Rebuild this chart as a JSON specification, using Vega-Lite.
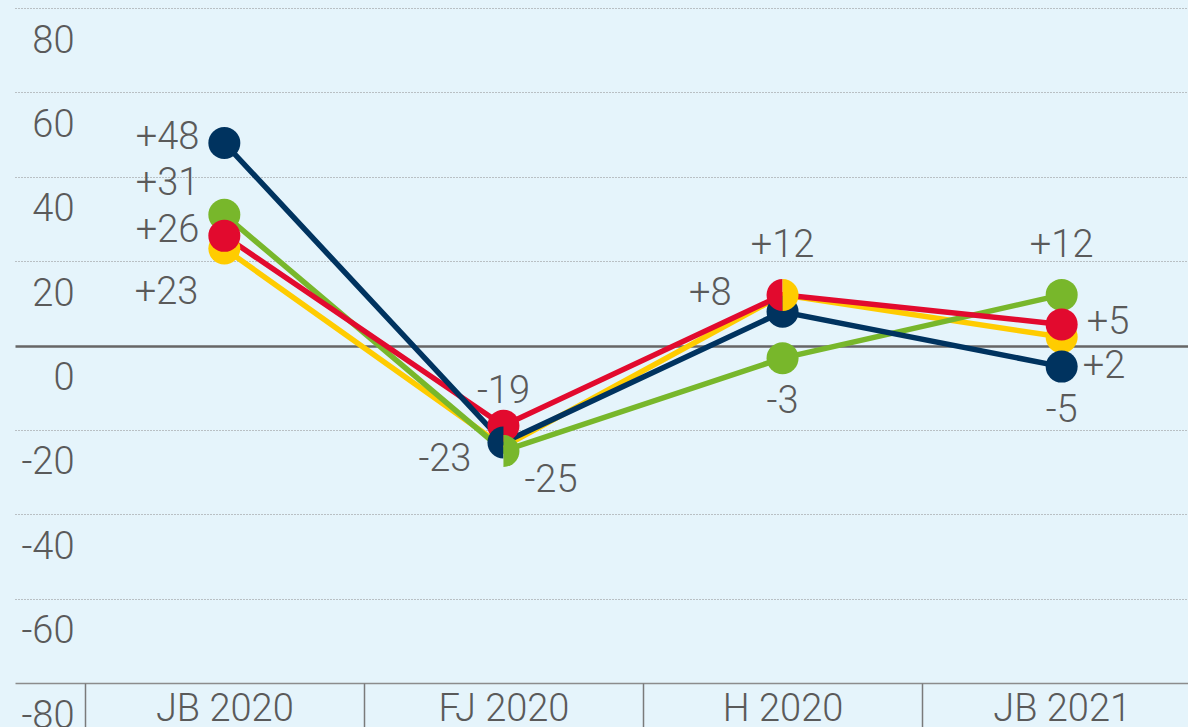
{
  "$schema": "https://vega.github.io/schema/vega-lite/v6.json",
  "width": 1173,
  "height": 675,
  "autosize": "none",
  "padding": {"left": 15, "top": 8, "right": 0, "bottom": 44},
  "background": "#e5f4fb",
  "config": {
    "view": {"stroke": null},
    "font": "Roboto"
  },
  "data": {
    "values": [
      {"period": "JB 2020", "series": "gelb", "value": 23},
      {"period": "FJ 2020", "series": "gelb", "value": -24},
      {"period": "H 2020", "series": "gelb", "value": 12},
      {"period": "JB 2021", "series": "gelb", "value": 2},
      {"period": "JB 2020", "series": "gruen", "value": 31},
      {"period": "FJ 2020", "series": "gruen", "value": -25},
      {"period": "H 2020", "series": "gruen", "value": -3},
      {"period": "JB 2021", "series": "gruen", "value": 12},
      {"period": "JB 2020", "series": "rot", "value": 26},
      {"period": "FJ 2020", "series": "rot", "value": -19},
      {"period": "H 2020", "series": "rot", "value": 12},
      {"period": "JB 2021", "series": "rot", "value": 5},
      {"period": "JB 2020", "series": "blau", "value": 48},
      {"period": "FJ 2020", "series": "blau", "value": -23},
      {"period": "H 2020", "series": "blau", "value": 8},
      {"period": "JB 2021", "series": "blau", "value": -5}
    ]
  },
  "transform": [
    {"calculate": "datum.period + '/' + datum.series", "as": "key"},
    {"calculate": "(datum.value > 0 ? '+' : '') + datum.value", "as": "label"}
  ],
  "encoding": {
    "x": {
      "field": "period",
      "type": "ordinal",
      "sort": ["JB 2020", "FJ 2020", "H 2020", "JB 2021"],
      "scale": {"type": "band", "range": [0, 1256], "paddingInner": 0, "paddingOuter": 0.25},
      "bandPosition": 0.5,
      "axis": {
        "title": null,
        "domain": false,
        "grid": false,
        "ticks": true,
        "tickBand": "extent",
        "tickSize": 44,
        "tickColor": "#7a7a7a",
        "tickWidth": 1.5,
        "labelFont": "Roboto",
        "labelFontWeight": 300,
        "labelFontSize": 38,
        "labelColor": "#5a5a5a",
        "labelPadding": -7,
        "labelBaseline": "alphabetic",
        "labelAngle": 0,
        "labelFlush": false,
        "labelOverlap": false
      }
    },
    "y": {
      "field": "value",
      "type": "quantitative",
      "scale": {"domain": [-80, 80], "nice": false, "zero": false},
      "axis": {
        "title": null,
        "domain": false,
        "ticks": false,
        "tickSize": 0,
        "values": [-80, -60, -40, -20, 0, 20, 40, 60, 80],
        "grid": true,
        "gridColor": {"condition": {"test": "datum.value === 0", "value": "#666666"}, "value": "#8c8c8c"},
        "gridDash": {"condition": {"test": "datum.value === 0 || datum.value === -80", "value": []}, "value": [1, 2]},
        "gridWidth": {"condition": [{"test": "datum.value === 0", "value": 2.5}, {"test": "datum.value === -80", "value": 1.5}], "value": 1},
        "labelExpr": "'' + datum.value",
        "labelAlign": "right",
        "labelBaseline": "alphabetic",
        "labelPadding": -59,
        "labelOffset": 44,
        "labelFont": "Roboto",
        "labelFontWeight": 300,
        "labelFontSize": 38,
        "labelColor": "#5a5a5a",
        "labelFlush": false,
        "labelOverlap": false
      }
    }
  },
  "layer": [
    {
      "mark": {"type": "line", "strokeWidth": 5.5},
      "encoding": {
        "color": {"field": "series", "type": "nominal", "legend": null,
          "scale": {"domain": ["gelb", "gruen", "rot", "blau"], "range": ["#ffcc00", "#78b72b", "#e20a2e", "#00335f"]}}
      }
    },
    {
      "transform": [{"filter": "indexof(['FJ 2020/gelb', 'FJ 2020/gruen', 'FJ 2020/blau', 'H 2020/rot', 'H 2020/gelb'], datum.key) < 0"}],
      "mark": {"type": "point", "shape": "circle", "filled": true, "opacity": 1, "size": 1024, "strokeWidth": 0},
      "encoding": {
        "color": {"field": "series", "type": "nominal", "legend": null,
          "scale": {"domain": ["gelb", "gruen", "rot", "blau"], "range": ["#ffcc00", "#78b72b", "#e20a2e", "#00335f"]}}
      }
    },
    {
      "transform": [{"filter": "indexof(['FJ 2020/blau', 'H 2020/rot'], datum.key) >= 0"}],
      "mark": {"type": "point", "shape": "M0,-1A1,1,0,0,0,0,1Z", "filled": true, "opacity": 1, "size": 1024, "strokeWidth": 0},
      "encoding": {
        "color": {"field": "series", "type": "nominal", "legend": null,
          "scale": {"domain": ["gelb", "gruen", "rot", "blau"], "range": ["#ffcc00", "#78b72b", "#e20a2e", "#00335f"]}}
      }
    },
    {
      "transform": [{"filter": "indexof(['FJ 2020/gruen', 'H 2020/gelb'], datum.key) >= 0"}],
      "mark": {"type": "point", "shape": "M0,-1A1,1,0,0,1,0,1Z", "filled": true, "opacity": 1, "size": 1024, "strokeWidth": 0},
      "encoding": {
        "color": {"field": "series", "type": "nominal", "legend": null,
          "scale": {"domain": ["gelb", "gruen", "rot", "blau"], "range": ["#ffcc00", "#78b72b", "#e20a2e", "#00335f"]}}
      }
    },
    {
      "encoding": {"text": {"field": "label"}},
      "layer": [
        {
          "transform": [{"filter": "indexof(['JB 2020/blau', 'JB 2020/rot'], datum.key) >= 0"}],
          "mark": {"type": "text", "font": "Roboto", "fontWeight": 300, "fontSize": 38, "color": "#5a5a5a", "baseline": "middle", "align": "right", "dx": -25, "dy": -5}
        },
        {
          "transform": [{"filter": "datum.key === 'JB 2020/gruen'"}],
          "mark": {"type": "text", "font": "Roboto", "fontWeight": 300, "fontSize": 38, "color": "#5a5a5a", "baseline": "middle", "align": "right", "dx": -25, "dy": -31}
        },
        {
          "transform": [{"filter": "datum.key === 'JB 2020/gelb'"}],
          "mark": {"type": "text", "font": "Roboto", "fontWeight": 300, "fontSize": 38, "color": "#5a5a5a", "baseline": "middle", "align": "right", "dx": -26, "dy": 45}
        },
        {
          "transform": [{"filter": "datum.key === 'FJ 2020/rot'"}],
          "mark": {"type": "text", "font": "Roboto", "fontWeight": 300, "fontSize": 38, "color": "#5a5a5a", "baseline": "middle", "align": "center", "dy": -34}
        },
        {
          "transform": [{"filter": "indexof(['H 2020/rot', 'JB 2021/gruen'], datum.key) >= 0"}],
          "mark": {"type": "text", "font": "Roboto", "fontWeight": 300, "fontSize": 38, "color": "#5a5a5a", "baseline": "middle", "align": "center", "dy": -49}
        },
        {
          "transform": [{"filter": "indexof(['H 2020/gruen', 'JB 2021/blau'], datum.key) >= 0"}],
          "mark": {"type": "text", "font": "Roboto", "fontWeight": 300, "fontSize": 38, "color": "#5a5a5a", "baseline": "middle", "align": "center", "dy": 44}
        },
        {
          "transform": [{"filter": "datum.key === 'FJ 2020/blau'"}],
          "mark": {"type": "text", "font": "Roboto", "fontWeight": 300, "fontSize": 38, "color": "#5a5a5a", "baseline": "middle", "align": "right", "dx": -32, "dy": 17}
        },
        {
          "transform": [{"filter": "datum.key === 'H 2020/blau'"}],
          "mark": {"type": "text", "font": "Roboto", "fontWeight": 300, "fontSize": 38, "color": "#5a5a5a", "baseline": "middle", "align": "right", "dx": -51, "dy": -18}
        },
        {
          "transform": [{"filter": "datum.key === 'JB 2021/rot'"}],
          "mark": {"type": "text", "font": "Roboto", "fontWeight": 300, "fontSize": 38, "color": "#5a5a5a", "baseline": "middle", "align": "left", "dx": 25, "dy": -1}
        },
        {
          "transform": [{"filter": "indexof(['FJ 2020/gruen', 'JB 2021/gelb'], datum.key) >= 0"}],
          "mark": {"type": "text", "font": "Roboto", "fontWeight": 300, "fontSize": 38, "color": "#5a5a5a", "baseline": "middle", "align": "left", "dx": 21, "dy": 30}
        }
      ]
    }
  ]
}
